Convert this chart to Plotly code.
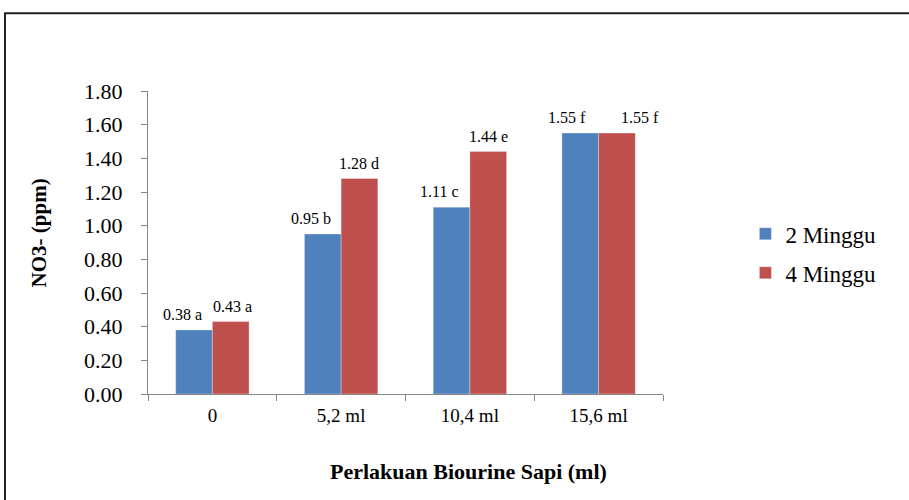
import plotly.graph_objects as go

categories = ["0", "5,2 ml", "10,4 ml", "15,6 ml"]
series_names = ["2 Minggu", "4 Minggu"]
values_2 = [0.38, 0.95, 1.11, 1.55]
values_4 = [0.43, 1.28, 1.44, 1.55]
letters_2 = ["a", "b", "c", "f"]
letters_4 = ["a", "d", "e", "f"]
y_ticks = [0.0, 0.2, 0.4, 0.6, 0.8, 1.0, 1.2, 1.4, 1.6, 1.8]
x_title = "Perlakuan Biourine Sapi (ml)"
y_title = "NO3- (ppm)"

FONT = "Liberation Serif, Times New Roman, serif"
colors = ["#4F81BD", "#C0504D"]
BARGAP = 0.43

# label nudges in pixels (style only)
label_xshift_2 = [-12, -12, -12, -13]
label_xshift_4 = [2, 0, 0, 23]

fig = go.Figure()
series = [
    (series_names[0], values_2, letters_2, colors[0], "g1", label_xshift_2, -1),
    (series_names[1], values_4, letters_4, colors[1], "g2", label_xshift_4, 1),
]
half = (1 - BARGAP) / 4.0
for name, vals, lets, col, grp, shifts, side in series:
    fig.add_trace(go.Bar(
        name=name, x=categories, y=vals,
        marker=dict(color=col, line=dict(color="rgba(255,255,255,0.6)", width=0.5)),
        legendgroup=grp,
    ))
    for i, (v, l) in enumerate(zip(vals, lets)):
        fig.add_annotation(
            x=i + side * half, y=v, xref="x", yref="y",
            text=f"{v:.2f} {l}", showarrow=False,
            xanchor="center", yanchor="bottom", yshift=5, xshift=shifts[i],
            font=dict(family=FONT, size=16, color="#000000"),
        )

# axis titles (placed as in the reference)
fig.add_annotation(
    x=0.623, y=-0.257, xref="paper", yref="paper", text=f"<b>{x_title}</b>",
    showarrow=False, xanchor="center", yanchor="middle",
    font=dict(family=FONT, size=22, color="#000000"),
)
fig.add_annotation(
    x=-0.211, y=0.531, xref="paper", yref="paper", text=f"<b>{y_title}</b>",
    showarrow=False, xanchor="center", yanchor="middle", textangle=-90,
    font=dict(family=FONT, size=21, color="#000000"),
)

fig.update_layout(
    width=909, height=500,
    margin=dict(l=148, r=246, t=91, b=106),
    paper_bgcolor="white", plot_bgcolor="white",
    barmode="group", bargap=BARGAP, bargroupgap=0,
    font=dict(family=FONT, color="#000000"),
    legend=dict(
        x=1.16, y=0.464, xanchor="left", yanchor="middle",
        font=dict(family=FONT, size=23, color="#000000"),
        traceorder="grouped", tracegroupgap=6, itemwidth=30,
        bgcolor="rgba(0,0,0,0)",
    ),
    showlegend=True,
)

fig.update_yaxes(
    range=[0, 1.8], tickvals=y_ticks, ticktext=[f"{t:.2f}" for t in y_ticks],
    showgrid=False, zeroline=False,
    showline=True, linecolor="#868686", linewidth=1,
    ticks="outside", ticklen=6, tickcolor="#868686",
    tickfont=dict(family=FONT, size=22, color="#000000"),
    ticklabelstandoff=14,
)
fig.update_xaxes(
    showgrid=False, showline=True, linecolor="#868686", linewidth=1,
    ticks="outside", ticklen=6, tickcolor="#868686", tickson="boundaries",
    tickfont=dict(family=FONT, size=19, color="#000000"),
    ticklabelstandoff=4,
)

# outer frame
fig.add_shape(type="rect", xref="paper", yref="paper",
              x0=-0.2777, x1=1.6, y0=-0.5, y1=1.257,
              line=dict(color="#222222", width=2), fillcolor="rgba(0,0,0,0)", layer="below")

fig.write_html("out.html", config={"displayModeBar": False},
               post_script="document.body.style.margin='0';")
